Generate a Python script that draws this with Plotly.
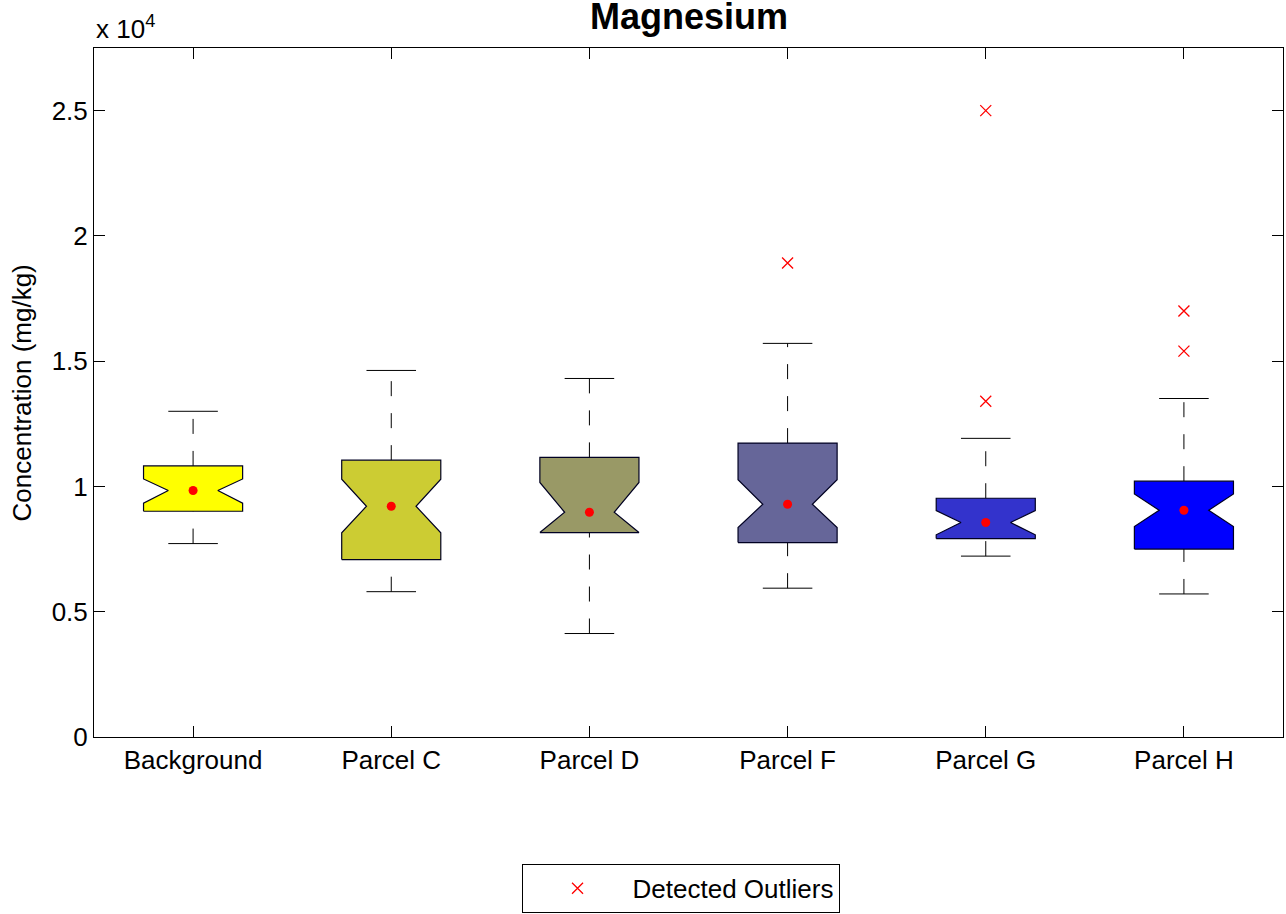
import plotly.graph_objects as go

categories = ["Background", "Parcel C", "Parcel D", "Parcel F", "Parcel G", "Parcel H"]
lower_whisker = [7720, 5800, 4130, 5940, 7220, 5710]
q1 = [9010, 7080, 8160, 7760, 7920, 7500]
notch_lo = [9330, 8150, 8160, 8360, 8070, 8400]
median = [9840, 9210, 8970, 9290, 8560, 9050]
notch_hi = [10300, 10290, 10160, 10270, 9040, 9700]
q3 = [10820, 11050, 11160, 11730, 9530, 10210]
upper_whisker = [13000, 14630, 14310, 15710, 11920, 13510]
outlier_cat = ["Parcel F", "Parcel G", "Parcel G", "Parcel H", "Parcel H"]
outlier_val = [18920, 25000, 13400, 17000, 15400]
box_colors = ["#FFFF00", "#CCCC33", "#999966", "#666699", "#3333CC", "#0000FF"]

ytick_vals = [0, 5000, 10000, 15000, 20000, 25000]
ytick_text = ["0", "0.5", "1", "1.5", "2", "2.5"]

FONT = "Liberation Sans, Arial, Helvetica, sans-serif"
FS = 26
HW = 0.25      # box half width
NW = 0.125     # notch waist half width
CW = 0.125     # cap half width

fig = go.Figure()

for i, cat in enumerate(categories):
    x = i + 1
    # whiskers (dashed), drawn from outside toward box
    fig.add_trace(go.Scatter(x=[x, x], y=[lower_whisker[i], q1[i]], mode="lines",
                             line=dict(color="black", width=1, dash="15px,17px"),
                             showlegend=False, hoverinfo="skip"))
    fig.add_trace(go.Scatter(x=[x, x], y=[q3[i], upper_whisker[i]], mode="lines",
                             line=dict(color="black", width=1, dash="15px,17px"),
                             showlegend=False, hoverinfo="skip"))
    # caps
    for v in (lower_whisker[i], upper_whisker[i]):
        fig.add_trace(go.Scatter(x=[x - CW, x + CW], y=[v, v], mode="lines",
                                 line=dict(color="black", width=1),
                                 showlegend=False, hoverinfo="skip"))
    # notched box polygon
    px = [x - HW, x - HW, x - NW, x - HW, x - HW, x + HW, x + HW, x + NW, x + HW, x + HW, x - HW]
    py = [q1[i], notch_lo[i], median[i], notch_hi[i], q3[i], q3[i], notch_hi[i], median[i],
          notch_lo[i], q1[i], q1[i]]
    fig.add_trace(go.Scatter(x=px, y=py, mode="lines", fill="toself",
                             fillcolor=box_colors[i],
                             line=dict(color="#000022", width=1.2),
                             showlegend=False, hoverinfo="skip"))
    # median dot
    fig.add_trace(go.Scatter(x=[x], y=[median[i]], mode="markers",
                             marker=dict(color="#FF0000", size=9, line=dict(width=0)),
                             showlegend=False, hoverinfo="skip"))

ox = [categories.index(c) + 1 for c in outlier_cat]
fig.add_trace(go.Scatter(x=ox, y=outlier_val, mode="markers", name="Detected Outliers",
                         marker=dict(symbol="x-thin", size=11, color="#FF0000",
                                     line=dict(color="#FF0000", width=1.3)),
                         showlegend=True))

fig.update_layout(
    width=1286, height=914,
    margin=dict(l=94, r=3, t=48, b=177, autoexpand=False),
    paper_bgcolor="white", plot_bgcolor="white",
    font=dict(family=FONT, size=FS, color="black"),
    showlegend=True,
    legend=dict(orientation="h", x=0.4933, xanchor="center", y=-0.184, yanchor="top",
                bordercolor="black", borderwidth=1, bgcolor="white",
                font=dict(family=FONT, size=FS, color="black"),
                itemwidth=100),
    annotations=[
        dict(text="<b>Magnesium</b>", xref="paper", yref="paper", x=0.5, y=1.0464,
             xanchor="center", yanchor="middle", showarrow=False,
             font=dict(family=FONT, size=36, color="black")),
        dict(text="x 10<sup>4</sup>", xref="paper", yref="paper", x=0.0, y=1.03,
             xanchor="left", yanchor="middle", showarrow=False,
             font=dict(family=FONT, size=FS, color="black")),
        dict(text="Concentration (mg/kg)", xref="paper", yref="paper", x=-0.0606, y=0.5,
             xanchor="center", yanchor="middle", textangle=-90, showarrow=False,
             font=dict(family=FONT, size=FS, color="black")),
    ],
)

fig.update_xaxes(range=[0.5, 6.5], tickvals=list(range(1, len(categories) + 1)),
                 ticktext=categories, ticks="inside", ticklen=11, tickcolor="black",
                 showline=True, linecolor="black", linewidth=1, mirror="ticks",
                 showgrid=False, zeroline=False, tickfont=dict(size=FS))
fig.update_yaxes(range=[0, 27500], tickvals=ytick_vals, ticktext=ytick_text,
                 ticks="inside", ticklen=11, tickcolor="black",
                 showline=True, linecolor="black", linewidth=1, mirror="ticks",
                 showgrid=False, zeroline=False, tickfont=dict(size=FS))

fig.write_html("out.html", config={"displayModeBar": False},
               post_script="document.body.style.margin='0';document.body.style.padding='0';")
